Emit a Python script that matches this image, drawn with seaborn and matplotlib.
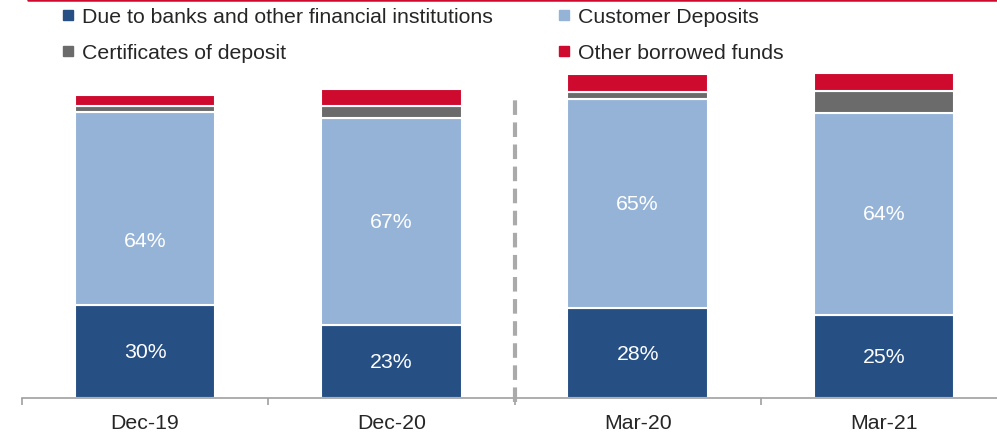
import numpy as np
import pandas as pd
import matplotlib
matplotlib.use("Agg")
import matplotlib.pyplot as plt
import seaborn as sns
from matplotlib.lines import Line2D

sns.set_style("white")
plt.rcParams['font.family'] = ['Liberation Sans', 'DejaVu Sans']

# data (arbitrary units)
periods = ['Dec-19', 'Dec-20', 'Mar-20', 'Mar-21']
due_banks = [30.7, 24.1, 29.7, 27.4]
customer_dep = [63.7, 68.5, 69.1, 66.9]
cert_deposit = [2.1, 3.7, 2.4, 7.1]
other_borrowed = [3.5, 5.9, 5.8, 5.8]
due_labels = ['30%', '23%', '28%', '25%']
cust_labels = ['64%', '67%', '65%', '64%']

series_names = ['Due to banks and other financial institutions', 'Customer Deposits',
                'Certificates of deposit', 'Other borrowed funds']
colors = ['#264F84', '#95B3D7', '#6B6B6B', '#CE0A2F']

df = pd.DataFrame({'period': periods, 'due': due_banks, 'cust': customer_dep,
                   'cert': cert_deposit, 'other': other_borrowed})

fig = plt.figure(figsize=(9.97, 4.35), dpi=100)
ax = fig.add_axes([22 / 997, 36 / 435, 985 / 997, 333 / 435])

FS = 15.3
bottom = np.zeros(len(df))
for col, color in zip(['due', 'cust', 'cert', 'other'], colors):
    sns.barplot(x='period', y=col, data=df, color=color, bottom=bottom, width=0.57,
                edgecolor='white', linewidth=1.5, saturation=1, ax=ax, zorder=2)
    bottom += df[col].values

# percentage labels inside bars
for i in range(len(df)):
    ax.text(i, due_banks[i] / 2, due_labels[i], ha='center', va='center',
            color='white', fontsize=FS)
    nudge = -10.5 if i == 0 else 0
    ax.text(i, due_banks[i] + customer_dep[i] / 2 + nudge, cust_labels[i], ha='center',
            va='center', color='white', fontsize=FS)

ax.set_xlim(-0.5, 3.5)
ax.set_ylim(0, 110)
for s in ['top', 'right', 'left']:
    ax.spines[s].set_visible(False)
ax.spines['bottom'].set_color('#A0A0A0')
ax.spines['bottom'].set_linewidth(1.2)
ax.set_yticks([])
ax.set_xlabel('')
ax.set_ylabel('')

ax.set_xticks(np.arange(-0.5, 4.0, 1.0))
ax.set_xticklabels([])
ax.tick_params(axis='x', which='major', direction='out', length=5, width=1.2,
               color='#A0A0A0', bottom=True)
ax.set_xticks(np.arange(len(periods)), minor=True)
ax.set_xticklabels(periods, minor=True, fontsize=FS)
ax.tick_params(axis='x', which='minor', length=0, pad=11)

# dashed separator
ax.plot([1.5, 1.5], [-1.3, 99.5], color='#AAAAAA', lw=3, ls=(0, (3.5, 1.8)),
        clip_on=False, zorder=3)

# legend
handles = [Line2D([], [], marker='s', ls='', markersize=6.5, color=c) for c in colors]
order = [0, 2, 1, 3]
leg = fig.legend([handles[k] for k in order], [series_names[k] for k in order],
                 ncol=2, loc='upper left', bbox_to_anchor=(0.043, 1.025), frameon=False,
                 fontsize=FS, handlelength=0.6, handletextpad=0.35, columnspacing=3.05,
                 labelspacing=0.8)

# top red rule
fig.add_artist(Line2D([28 / 997, 1.0], [0.997, 0.997], color='#CE0A2F', lw=1.8))

fig.savefig('out.png', dpi=100)
